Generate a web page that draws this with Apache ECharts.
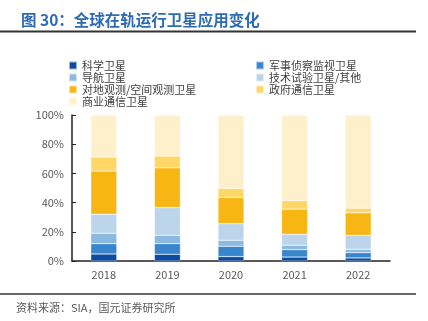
<!DOCTYPE html>
<html>
<head>
<meta charset="utf-8">
<script src="https://cdn.jsdelivr.net/npm/echarts@6/dist/echarts.min.js"></script>
<style>
  html, body { margin: 0; padding: 0; background: #fff; }
  #chart { width: 428px; height: 321px; }
</style>
</head>
<body>
<div id="chart"></div>
<script>
// Years on the category axis
const years = ['2018', '2019', '2020', '2021', '2022'];

// Share of in-orbit satellites by application (%), bottom to top of each stack
const science      = [4.8, 4.6, 3.0, 2.7, 2.1];   // 科学卫星
const military     = [7.1, 7.3, 7.1, 5.1, 3.6];   // 军事侦察监视卫星
const navigation   = [7.1, 5.7, 4.1, 3.0, 2.3];   // 导航卫星
const techTest     = [13.0, 19.0, 11.4, 7.5, 9.6]; // 技术试验卫星/其他
const earthObs     = [29.6, 27.2, 17.9, 17.2, 15.4]; // 对地观测/空间观测卫星
const govComm      = [9.6, 8.1, 6.2, 5.9, 3.2];   // 政府通信卫星
const commercial   = [28.8, 28.1, 50.3, 58.6, 63.8]; // 商业通信卫星

// Y axis tick values
const yTicks = [0, 20, 40, 60, 80, 100];

const seriesDefs = [
  { name: '科学卫星', data: science, color: '#0b4ca1' },
  { name: '军事侦察监视卫星', data: military, color: '#3a86cd' },
  { name: '导航卫星', data: navigation, color: '#8bb9e1' },
  { name: '技术试验卫星/其他', data: techTest, color: '#bcd5eb' },
  { name: '对地观测/空间观测卫星', data: earthObs, color: '#f8b614' },
  { name: '政府通信卫星', data: govComm, color: '#fed766' },
  { name: '商业通信卫星', data: commercial, color: '#fef0cb' }
];

const font = '"Noto Sans CJK SC", "Noto Sans", sans-serif';
const chart = echarts.init(document.getElementById('chart'), null, { renderer: 'canvas' });

const legendText = { fontSize: 11, color: '#404040', fontFamily: font, lineHeight: 11 };

chart.setOption({
  animation: false,
  title: {
    text: '图 30：全球在轨运行卫星应用变化',
    left: 16, top: 7,
    textStyle: { fontSize: 15.5, fontWeight: 'bold', color: '#2f6bb2', fontFamily: font }
  },
  legend: [
    {
      orient: 'vertical', left: 63, top: 55,
      itemWidth: 8, itemHeight: 8, itemGap: 1, icon: 'rect',
      textStyle: legendText,
      data: ['科学卫星', '导航卫星', '对地观测/空间观测卫星', '商业通信卫星']
    },
    {
      orient: 'vertical', left: 250, top: 55,
      itemWidth: 8, itemHeight: 8, itemGap: 1, icon: 'rect',
      textStyle: legendText,
      data: ['军事侦察监视卫星', '技术试验卫星/其他', '政府通信卫星']
    }
  ],
  grid: { left: 72, right: 38, top: 115, bottom: 60 },
  xAxis: {
    type: 'category',
    data: years,
    axisLine: { lineStyle: { color: '#222', width: 1.5 } },
    axisTick: { inside: true, length: 4, lineStyle: { color: '#222' } },
    axisLabel: { fontSize: 11, color: '#595959', margin: 8, fontFamily: font }
  },
  yAxis: {
    type: 'value',
    min: yTicks[0], max: yTicks[yTicks.length - 1], interval: yTicks[1] - yTicks[0],
    axisLine: { show: true, lineStyle: { color: '#222', width: 1.5 } },
    axisTick: { show: true, inside: true, length: 4, lineStyle: { color: '#222' } },
    splitLine: { show: false },
    axisLabel: { fontSize: 11, color: '#595959', margin: 8, fontFamily: font, formatter: '{value}%' }
  },
  series: seriesDefs.map(s => ({
    name: s.name,
    type: 'bar',
    stack: 'total',
    barWidth: 26,
    data: s.data,
    itemStyle: { color: s.color, borderColor: 'rgba(255,255,255,0.6)', borderWidth: 0.5 }
  })),
  graphic: [
    { type: 'line', shape: { x1: 0, y1: 31.5, x2: 416, y2: 31.5 }, style: { stroke: '#333', lineWidth: 2 } },
    { type: 'line', shape: { x1: 0, y1: 294, x2: 416, y2: 294 }, style: { stroke: '#333', lineWidth: 1.5 } },
    {
      type: 'text', left: 16, top: 302,
      style: { text: '资料来源：SIA，国元证券研究所', fontSize: 11, fill: '#595959', fontFamily: font }
    }
  ]
});
</script>
</body>
</html>
